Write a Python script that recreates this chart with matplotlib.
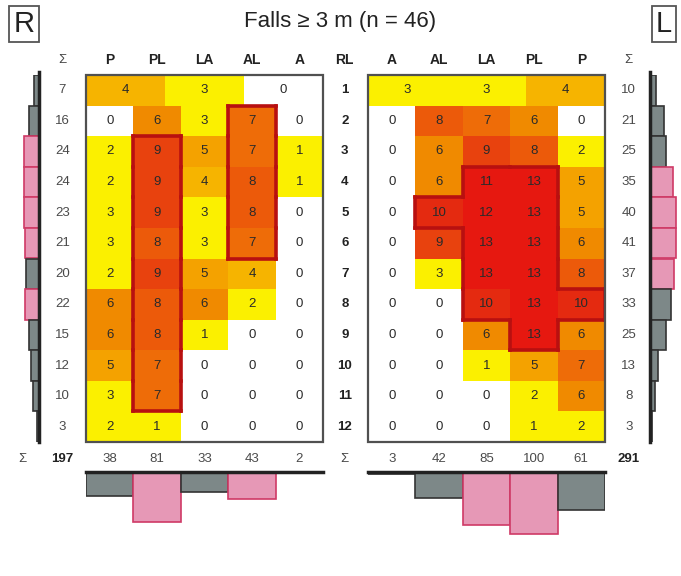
import matplotlib
matplotlib.use('Agg')
import matplotlib.pyplot as plt
import numpy as np
from matplotlib.colors import ListedColormap, BoundaryNorm
from matplotlib.patches import Rectangle
from matplotlib.collections import LineCollection

plt.rcParams['font.family'] = ['Liberation Sans', 'DejaVu Sans']

# ---- data ----
left_cols = ['P', 'PL', 'LA', 'AL', 'A']
right_cols = ['A', 'AL', 'LA', 'PL', 'P']
rib_labels = [str(i) for i in range(1, 13)]

# first rib row is split in three parts (posterior / lateral / anterior)
left_top = [4, 3, 0]
right_top = [3, 3, 4]

left_vals = [[0, 6, 3, 7, 0],
             [2, 9, 5, 7, 1],
             [2, 9, 4, 8, 1],
             [3, 9, 3, 8, 0],
             [3, 8, 3, 7, 0],
             [2, 9, 5, 4, 0],
             [6, 8, 6, 2, 0],
             [6, 8, 1, 0, 0],
             [5, 7, 0, 0, 0],
             [3, 7, 0, 0, 0],
             [2, 1, 0, 0, 0]]

right_vals = [[0, 8, 7, 6, 0],
              [0, 6, 9, 8, 2],
              [0, 6, 11, 13, 5],
              [0, 10, 12, 13, 5],
              [0, 9, 13, 13, 6],
              [0, 3, 13, 13, 8],
              [0, 0, 10, 13, 10],
              [0, 0, 6, 13, 6],
              [0, 0, 1, 5, 7],
              [0, 0, 0, 2, 6],
              [0, 0, 0, 1, 2]]

left_row_tot = [7, 16, 24, 24, 23, 21, 20, 22, 15, 12, 10, 3]
right_row_tot = [10, 21, 25, 35, 40, 41, 37, 33, 25, 13, 8, 3]
left_col_tot = [38, 81, 33, 43, 2]
right_col_tot = [3, 42, 85, 100, 61]
left_total = 197
right_total = 291

left_row_hi = [0, 0, 1, 1, 1, 1, 0, 1, 0, 0, 0, 0]
right_row_hi = [0, 0, 0, 1, 1, 1, 1, 0, 0, 0, 0, 0]
left_col_hi = [0, 1, 0, 1, 0]
right_col_hi = [0, 0, 1, 1, 0]

# cells (rib index 0..11, column index) inside the red outlines
left_box = [(r, 1) for r in range(2, 11)] + [(r, 3) for r in range(1, 6)]
right_box = [(3, 2), (3, 3), (4, 1), (4, 2), (4, 3), (5, 2), (5, 3),
             (6, 2), (6, 3), (7, 2), (7, 3), (7, 4), (8, 3)]

# ---- styles ----
W, H = 681, 576
bounds = [-0.5, 0.5, 3.5, 4.5, 5.5, 6.5, 7.5, 8.5, 9.5, 10.5, 100]
colors = ['#ffffff', '#fbf000', '#f6b400', '#f4a200', '#f08a00', '#ee6c08',
          '#ec5a0a', '#e8420e', '#e42a10', '#e61810']
cmap = ListedColormap(colors)
norm = BoundaryNorm(bounds, cmap.N)
PINK, PINK_E = '#e698b6', '#cf3a66'
GRAY, GRAY_E = '#7d8888', '#333333'
TXT = '#2a2a2a'

fig = plt.figure(figsize=(W / 100, H / 100), dpi=100)


def px_axes(x0, y0, x1, y1):
    return fig.add_axes([x0 / W, 1 - y1 / H, (x1 - x0) / W, (y1 - y0) / H])


def outline(ax, cells):
    s = set(cells)
    segs = []
    for r, c in cells:
        if (r - 1, c) not in s:
            segs.append([(c, r), (c + 1, r)])
        if (r + 1, c) not in s:
            segs.append([(c, r + 1), (c + 1, r + 1)])
        if (r, c - 1) not in s:
            segs.append([(c, r), (c, r + 1)])
        if (r, c + 1) not in s:
            segs.append([(c + 1, r), (c + 1, r + 1)])
    ax.add_collection(LineCollection(segs, colors='#b81010', linewidths=2.6,
                                     capstyle='projecting', zorder=4))


def heat(ax, top, vals):
    vals = np.array(vals)
    ax.pcolormesh([0, 5 / 3, 10 / 3, 5], [0, 1], np.array([top]), cmap=cmap, norm=norm)
    ax.pcolormesh(np.arange(6), np.arange(1, 13), vals, cmap=cmap, norm=norm)
    for k, v in enumerate(top):
        ax.text((k + 0.5) * 5 / 3, 0.5, str(v), ha='center', va='center',
                fontsize=9.5, color=TXT)
    for r in range(vals.shape[0]):
        for c in range(5):
            ax.text(c + 0.5, r + 1.5, str(vals[r, c]), ha='center', va='center',
                    fontsize=9.5, color=TXT)
    ax.set_xlim(0, 5)
    ax.set_ylim(12, 0)
    ax.axis('off')
    ax.add_patch(Rectangle((0, 0), 1, 1, transform=ax.transAxes, fill=False,
                           ec='#505050', lw=1.6, zorder=5, clip_on=False))


axL = px_axes(86, 75, 323, 442)
axR = px_axes(368, 75, 605, 442)
heat(axL, left_top, left_vals)
heat(axR, right_top, right_vals)
outline(axL, left_box)
outline(axR, right_box)

# headers, row labels, totals
for j, lab in enumerate(left_cols):
    axL.text(j + 0.5, -0.5, lab, ha='center', va='center', fontsize=10,
             fontweight='bold', color='#222222')
for j, lab in enumerate(right_cols):
    axR.text(j + 0.5, -0.5, lab, ha='center', va='center', fontsize=10,
             fontweight='bold', color='#222222')
axL.text(-0.5, -0.5, 'Σ', ha='center', va='center', fontsize=9.5, color='#444444')
axR.text(5.5, -0.5, 'Σ', ha='center', va='center', fontsize=9.5, color='#444444')
axL.text(5.46, -0.5, 'RL', ha='center', va='center', fontsize=10,
         fontweight='bold', color='#222222')
for i, lab in enumerate(rib_labels):
    axL.text(5.46, i + 0.5, lab, ha='center', va='center', fontsize=9.5,
             fontweight='bold', color='#222222')
    axL.text(-0.5, i + 0.5, str(left_row_tot[i]), ha='center', va='center',
             fontsize=9.5, color='#4a4a4a')
    axR.text(5.5, i + 0.5, str(right_row_tot[i]), ha='center', va='center',
             fontsize=9.5, color='#4a4a4a')
for j in range(5):
    axL.text(j + 0.5, 12.55, str(left_col_tot[j]), ha='center', va='center',
             fontsize=9.5, color='#4a4a4a')
    axR.text(j + 0.5, 12.55, str(right_col_tot[j]), ha='center', va='center',
             fontsize=9.5, color='#4a4a4a')
axL.text(-1.35, 12.55, 'Σ', ha='center', va='center', fontsize=9.5, color='#444444')
axL.text(-0.5, 12.55, str(left_total), ha='center', va='center', fontsize=9.5,
         fontweight='bold', color='#222222')
axL.text(5.46, 12.55, 'Σ', ha='center', va='center', fontsize=9.5, color='#444444')
axR.text(5.5, 12.55, str(right_total), ha='center', va='center', fontsize=9.5,
         fontweight='bold', color='#222222')

# side histograms (ribs)
rows = np.arange(12) + 0.5
for ax_box, tot, hi, flip in [((8, 75, 39, 442), left_row_tot, left_row_hi, True),
                              ((650, 75, 681, 442), right_row_tot, right_row_hi, False)]:
    ax = px_axes(*ax_box)
    fc = [PINK if h else GRAY for h in hi]
    ec = [PINK_E if h else GRAY_E for h in hi]
    ax.barh(rows, tot, height=1.0, color=fc, edgecolor=ec, linewidth=1.2)
    ax.plot([0, 0], [-0.1, 12], color='#222222', lw=2.5, clip_on=False)
    ax.set_ylim(12, 0)
    ax.set_xlim((48, 0) if flip else (0, 48))
    ax.axis('off')

# bottom histograms (regions)
cols = np.arange(5) + 0.5
for ax_box, tot, hi in [((86, 472, 323, 545), left_col_tot, left_col_hi),
                        ((368, 472, 605, 545), right_col_tot, right_col_hi)]:
    ax = px_axes(*ax_box)
    fc = [PINK if h else GRAY for h in hi]
    ec = [PINK_E if h else GRAY_E for h in hi]
    ax.bar(cols, tot, width=1.0, color=fc, edgecolor=ec, linewidth=1.2)
    ax.plot([0, 5], [0, 0], color='#222222', lw=2.5, clip_on=False)
    ax.set_xlim(0, 5)
    ax.set_ylim(118, 0)
    ax.axis('off')

fig.text(340 / W, 1 - 21 / H, 'Falls ≥ 3 m (n = 46)', ha='center', va='center',
         fontsize=16, color='#222222')
fig.text(24 / W, 1 - 24 / H, 'R', ha='center', va='center', fontsize=21,
         color='#222222',
         bbox=dict(boxstyle='square,pad=0.15', fc='white', ec='#555555', lw=1.3))
fig.text(664 / W, 1 - 24 / H, 'L', ha='center', va='center', fontsize=21,
         color='#222222',
         bbox=dict(boxstyle='square,pad=0.15', fc='white', ec='#555555', lw=1.3))

fig.savefig('out.png', dpi=100)
